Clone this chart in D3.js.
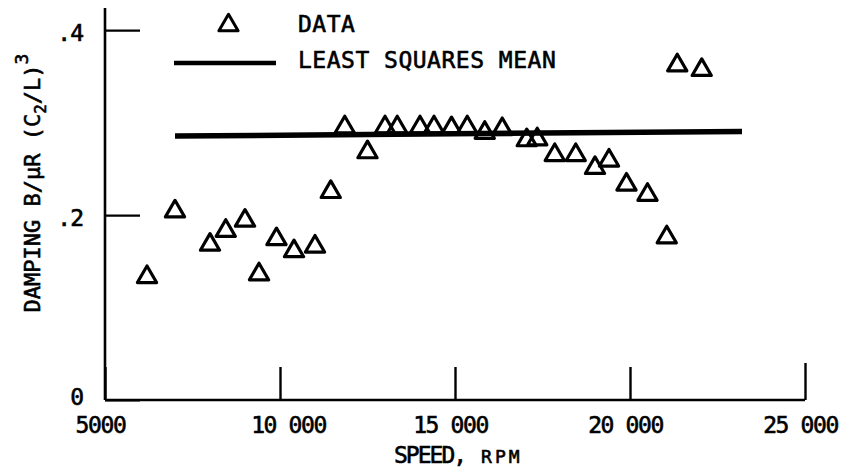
<!DOCTYPE html>
<html>
<head>
<meta charset="utf-8">
<script src="https://cdn.jsdelivr.net/npm/d3@7"></script>
<style>
  body { margin: 0; background: #fff; }
  text { font-family: "DejaVu Sans Mono", monospace; fill: #000; stroke: #000; stroke-width: 0.6px; }
</style>
</head>
<body>
<svg id="chart" width="845" height="473"></svg>
<script>
// Measured damping versus shaft speed
const speeds = [6200, 7000, 8000, 8450, 9000, 9400, 9900, 10400, 11000, 11450,
                11850, 12500, 13000, 13350, 14000, 14400, 14900, 15350, 15850, 16350,
                17050, 17350, 17850, 18450, 19000, 19400, 19900, 20500, 21050, 21350, 22050];
const damping = [0.136, 0.207, 0.171, 0.186, 0.197, 0.139, 0.177, 0.164, 0.169, 0.228,
                 0.298, 0.271, 0.298, 0.298, 0.298, 0.298, 0.297, 0.298, 0.292, 0.296,
                 0.284, 0.285, 0.268, 0.268, 0.254, 0.262, 0.236, 0.225, 0.179, 0.365, 0.360];

// Least squares mean line, end points
const meanSpeeds = [7000, 23200];
const meanDamping = [0.2855, 0.2905];

const xTicks = [5000, 10000, 15000, 20000, 25000];
const xTickLabels = ["5000", "10 000", "15 000", "20 000", "25 000"];
const yTicks = [0, 0.2, 0.4];
const yTickLabels = ["0", ".2", ".4"];
const legendLabels = ["DATA", "LEAST SQUARES MEAN"];

const svg = d3.select("#chart");

const x = d3.scaleLinear().domain([5000, 25000]).range([105, 805]);
const y = d3.scaleLinear().domain([0, 0.424]).range([400, 8]);

// triangle marker centred on its bounding box
function triangle(cx, cy) {
  const p = d3.path();
  p.moveTo(cx, cy - 8.3);
  p.lineTo(cx + 9.6, cy + 8.3);
  p.lineTo(cx - 9.6, cy + 8.3);
  p.closePath();
  return p.toString();
}

// axes
const yAxis = d3.axisLeft(y)
  .tickValues(yTicks)
  .tickFormat((d, i) => yTickLabels[i])
  .tickSizeInner(-35)
  .tickSizeOuter(0)
  .tickPadding(22);

const gy = svg.append("g").attr("transform", "translate(105,0)").call(yAxis);
gy.select(".domain").remove();
gy.selectAll(".tick line").attr("stroke", "#000").attr("stroke-width", 2.2);
gy.selectAll(".tick text")
  .attr("dy", d => d === 0 ? "0.2em" : "0.45em")
  .style("font-size", "23px")
  .style("letter-spacing", "-1px");

const xAxis = d3.axisBottom(x)
  .tickValues(xTicks)
  .tickFormat((d, i) => xTickLabels[i])
  .tickSizeInner(-33)
  .tickSizeOuter(0)
  .tickPadding(17);

const gx = svg.append("g").attr("transform", "translate(0,400)").call(xAxis);
gx.select(".domain").remove();
gx.selectAll(".tick line")
  .attr("stroke", "#000")
  .attr("stroke-width", 2.4)
  .attr("y2", d => d === 25000 ? -37 : -33);
gx.selectAll(".tick text")
  .attr("dx", d => d === 10000 ? 8 : -5)
  .style("font-size", "23px")
  .style("letter-spacing", "-1.4px");

// axis lines
svg.append("line")
  .attr("x1", x(5000)).attr("x2", x(5000))
  .attr("y1", y(0)).attr("y2", y(0.424))
  .attr("stroke", "#000").attr("stroke-width", 2.6);
svg.append("line")
  .attr("x1", x(5000)).attr("x2", x(25000))
  .attr("y1", y(0)).attr("y2", y(0))
  .attr("stroke", "#000").attr("stroke-width", 2.6);

// least squares mean
const line = d3.line().x(d => x(d[0])).y(d => y(d[1]));
svg.append("path")
  .datum(d3.zip(meanSpeeds, meanDamping))
  .attr("d", line)
  .attr("fill", "none")
  .attr("stroke", "#000")
  .attr("stroke-width", 5.5);

// data points
svg.append("g")
  .selectAll("path")
  .data(d3.zip(speeds, damping))
  .join("path")
  .attr("d", d => triangle(x(d[0]), y(d[1])))
  .attr("fill", "none")
  .attr("stroke", "#000")
  .attr("stroke-width", 3.2)
  .attr("stroke-linejoin", "round");

// legend
const legend = svg.append("g");
legend.append("path")
  .attr("d", triangle(228.5, 22.5))
  .attr("fill", "none")
  .attr("stroke", "#000")
  .attr("stroke-width", 3)
  .attr("stroke-linejoin", "round");
legend.append("line")
  .attr("x1", 174).attr("x2", 276)
  .attr("y1", 63).attr("y2", 63)
  .attr("stroke", "#000").attr("stroke-width", 4.5);
legend.selectAll("text")
  .data(legendLabels)
  .join("text")
  .attr("x", 298)
  .attr("y", (d, i) => i === 0 ? 32 : 68)
  .style("font-size", "23px")
  .style("letter-spacing", "0.5px")
  .text(d => d);

// axis titles
const xt = svg.append("text")
  .attr("x", 394)
  .attr("y", 463)
  .style("font-size", "23px");
xt.append("tspan").style("letter-spacing", "-2px").text("SPEED,");
xt.append("tspan").attr("dx", 16).style("font-size", "18px").style("letter-spacing", "3px").text("RPM");

const yt = svg.append("text")
  .attr("transform", "translate(40,183) rotate(-90)")
  .attr("text-anchor", "middle")
  .style("font-size", "22px");
yt.append("tspan").text("DAMPING B/\u03BCR (C");
yt.append("tspan").attr("dy", 6).style("font-size", "16px").text("2");
yt.append("tspan").attr("dy", -6).text("/L)");
yt.append("tspan").attr("dy", -12).style("font-size", "18px").text("3");
</script>
</body>
</html>
